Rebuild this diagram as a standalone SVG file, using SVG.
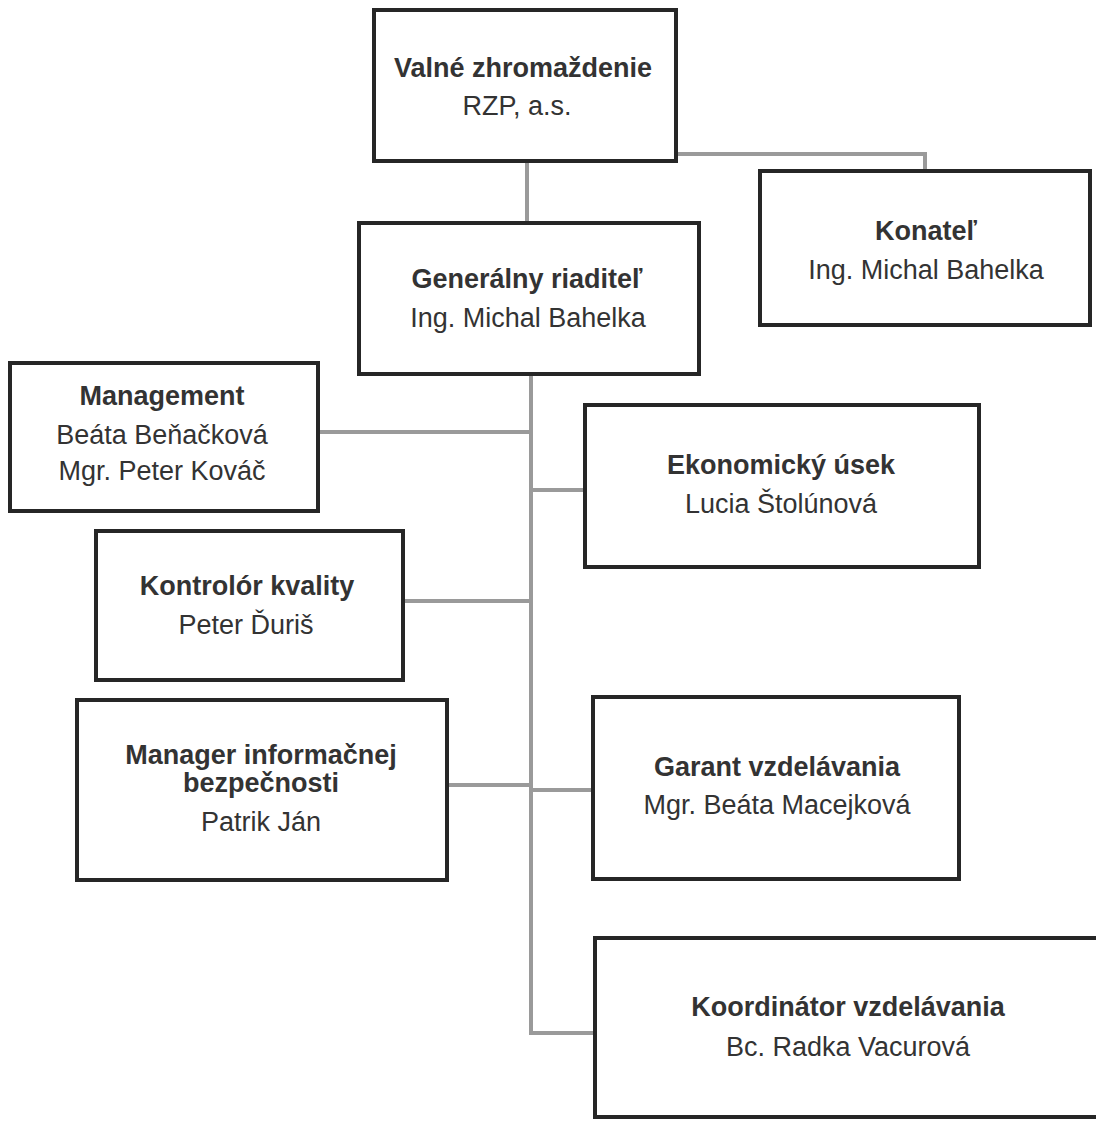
<svg xmlns="http://www.w3.org/2000/svg" width="1096" height="1122" viewBox="0 0 1096 1122">
<style>
.box{fill:#fff;stroke:#262626;stroke-width:4}
.t{font-family:"Liberation Sans",Arial,sans-serif;font-size:27px;fill:#333;text-anchor:middle}
.b{font-weight:bold}
.c{fill:none;stroke:#9a9a9a;stroke-width:4}
</style>
<rect width="1096" height="1122" fill="#fff"/>
<g id="connectors">
<path class="c" d="M527,161 V223"/>
<path class="c" d="M676,154 H925 V171"/>
<path class="c" d="M531,374 V1033 H595"/>
<path class="c" d="M318,432 H531"/>
<path class="c" d="M531,490 H585"/>
<path class="c" d="M403,601 H531"/>
<path class="c" d="M447,785 H531"/>
<path class="c" d="M531,790 H593"/>
</g>
<g id="valne">
<rect class="box" x="374" y="10" width="302" height="151"/>
<text class="t b" x="523" y="77">Valné zhromaždenie</text>
<text class="t" x="517" y="115">RZP, a.s.</text>
</g>
<g id="generalny">
<rect class="box" x="359" y="223" width="340" height="151"/>
<text class="t b" x="527" y="288">Generálny riaditeľ</text>
<text class="t" x="528" y="327">Ing. Michal Bahelka</text>
</g>
<g id="konatel">
<rect class="box" x="760" y="171" width="330" height="154"/>
<text class="t b" x="926" y="240">Konateľ</text>
<text class="t" x="926" y="279">Ing. Michal Bahelka</text>
</g>
<g id="management">
<rect class="box" x="10" y="363" width="308" height="148"/>
<text class="t b" x="162" y="405">Management</text>
<text class="t" x="162" y="444">Beáta Beňačková</text>
<text class="t" x="162" y="480">Mgr. Peter Kováč</text>
</g>
<g id="ekonomicky">
<rect class="box" x="585" y="405" width="394" height="162"/>
<text class="t b" x="781" y="474">Ekonomický úsek</text>
<text class="t" x="781" y="513">Lucia Štolúnová</text>
</g>
<g id="kontrolor">
<rect class="box" x="96" y="531" width="307" height="149"/>
<text class="t b" x="247" y="595">Kontrolór kvality</text>
<text class="t" x="246" y="634">Peter Ďuriš</text>
</g>
<g id="manager">
<rect class="box" x="77" y="700" width="370" height="180"/>
<text class="t b" x="261" y="764">Manager informačnej</text>
<text class="t b" x="261" y="792">bezpečnosti</text>
<text class="t" x="261" y="831">Patrik Ján</text>
</g>
<g id="garant">
<rect class="box" x="593" y="697" width="366" height="182"/>
<text class="t b" x="777" y="776">Garant vzdelávania</text>
<text class="t" x="777" y="814">Mgr. Beáta Macejková</text>
</g>
<g id="koordinator">
<rect class="box" x="595" y="938" width="520" height="179"/>
<text class="t b" x="848" y="1016">Koordinátor vzdelávania</text>
<text class="t" x="848" y="1056">Bc. Radka Vacurová</text>
</g>
</svg>
